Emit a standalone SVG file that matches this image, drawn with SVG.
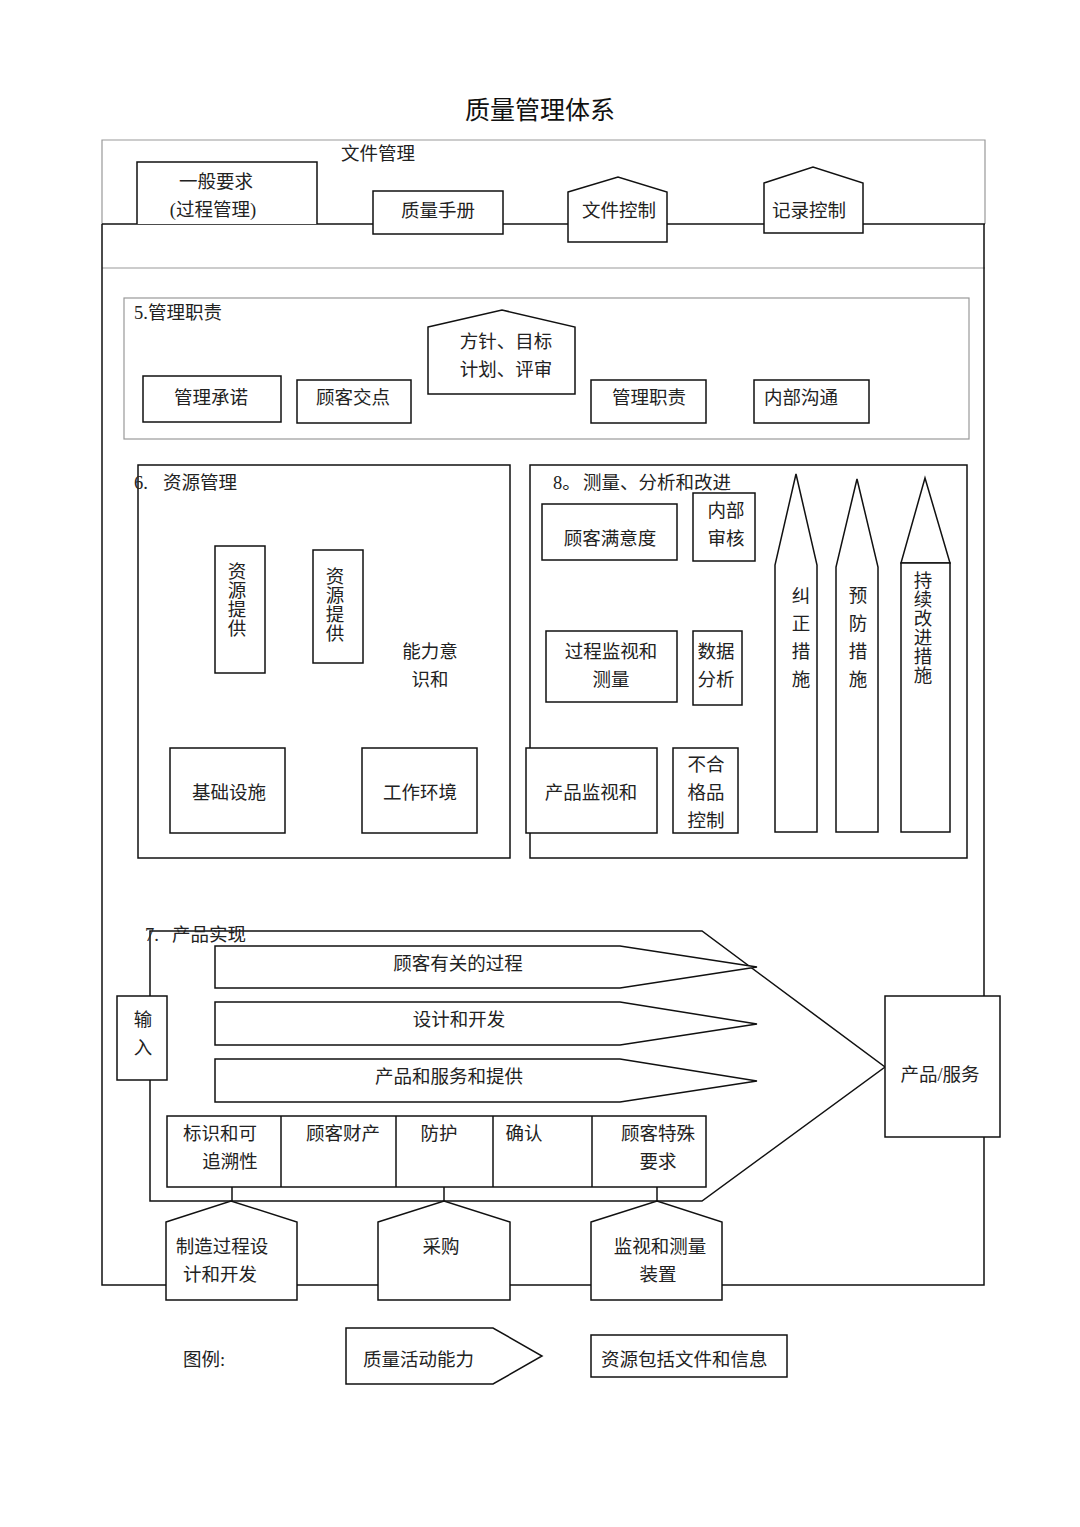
<svg xmlns="http://www.w3.org/2000/svg" width="1080" height="1527" viewBox="0 0 1080 1527">
<style>
.s{fill:#fff;stroke:#111;stroke-width:1.5}
.o{fill:none;stroke:#111;stroke-width:1.5}
.g{fill:none;stroke:#999;stroke-width:1.2}
text{font-family:"Liberation Serif","Noto Sans CJK SC",serif;font-size:18.5px;fill:#222}
.c{text-anchor:middle}
.t{font-size:25px;fill:#111}
</style>
<rect width="1080" height="1527" fill="#fff"/>
<text id="title" class="c t" x="540" y="119">质量管理体系</text>

<g id="frames">
<path class="g" d="M102,224 V140 H985 V224"/>
<line class="g" x1="102" y1="268" x2="985" y2="268"/>
<path class="o" d="M102,224 V1285 H984 V224"/>
<rect class="g" x="124" y="298" width="845" height="141"/>
<rect class="o" x="138" y="465" width="372" height="393"/>
<rect class="o" x="530" y="465" width="437" height="393"/>
</g>

<g id="connectors">
<line class="o" x1="102" y1="224" x2="985" y2="224"/>
<line class="o" x1="232" y1="1187" x2="232" y2="1201"/>
<line class="o" x1="444" y1="1187" x2="444" y2="1201"/>
<line class="o" x1="657" y1="1187" x2="657" y2="1201"/>
</g>

<g id="doc-mgmt">
<text x="341" y="160">文件管理</text>
</g>
<g id="general-req">
<path class="s" d="M137,224 V162 H317 V224"/>
<text class="c" x="216" y="188">一般要求</text>
<text class="c" x="213" y="216">(过程管理)</text>
</g>
<g id="quality-manual">
<rect class="s" x="373" y="191" width="130" height="43"/>
<text class="c" x="438" y="217">质量手册</text>
</g>
<g id="doc-control">
<path class="s" d="M568,192 L618,177 L667,192 V242 H568 Z"/>
<text class="c" x="619" y="217">文件控制</text>
</g>
<g id="record-control">
<path class="s" d="M764,183 L813,167 L863,183 V233 H764 Z"/>
<text class="c" x="809" y="217">记录控制</text>
</g>

<g id="mgmt-resp">
<text x="134" y="319">5.管理职责</text>
</g>
<g id="mgmt-commit">
<rect class="s" x="143" y="376" width="138" height="46"/>
<text class="c" x="211" y="404">管理承诺</text>
</g>
<g id="customer-focus">
<rect class="s" x="297" y="380" width="114" height="43"/>
<text class="c" x="353" y="404">顾客交点</text>
</g>
<g id="policy">
<path class="s" d="M428,327 L502,310 L575,327 V394 H428 Z"/>
<text class="c" x="506" y="348">方针、目标</text>
<text class="c" x="506" y="376">计划、评审</text>
</g>
<g id="mgmt-duty">
<rect class="s" x="591" y="380" width="115" height="43"/>
<text class="c" x="649" y="404">管理职责</text>
</g>
<g id="internal-comm">
<rect class="s" x="754" y="380" width="115" height="43"/>
<text x="764" y="404">内部沟通</text>
</g>

<g id="resource-mgmt">
<text x="134" y="489">6.</text>
<text x="163" y="489">资源管理</text>
</g>
<g id="res-provide-1">
<rect class="s" x="215" y="546" width="50" height="127"/>
<text class="c" x="237" y="578">资</text>
<text class="c" x="237" y="597">源</text>
<text class="c" x="237" y="616">提</text>
<text class="c" x="237" y="635">供</text>
</g>
<g id="res-provide-2">
<rect class="s" x="313" y="550" width="50" height="113"/>
<text class="c" x="335" y="583">资</text>
<text class="c" x="335" y="602">源</text>
<text class="c" x="335" y="621">提</text>
<text class="c" x="335" y="640">供</text>
</g>
<g id="competence">
<text class="c" x="430" y="658">能力意</text>
<text class="c" x="430" y="686">识和</text>
</g>
<g id="infrastructure">
<rect class="s" x="170" y="748" width="115" height="85"/>
<text class="c" x="229" y="799">基础设施</text>
</g>
<g id="work-env">
<rect class="s" x="362" y="748" width="115" height="85"/>
<text class="c" x="420" y="799">工作环境</text>
</g>

<g id="measure">
<text x="553" y="489">8。</text>
<text x="583" y="489">测量、分析和改进</text>
</g>
<g id="cust-sat">
<rect class="s" x="542" y="504" width="135" height="56"/>
<text class="c" x="610" y="545">顾客满意度</text>
</g>
<g id="internal-audit">
<rect class="s" x="693" y="493" width="62" height="68"/>
<text class="c" x="726" y="517">内部</text>
<text class="c" x="726" y="545">审核</text>
</g>
<g id="process-monitor">
<rect class="s" x="546" y="631" width="131" height="71"/>
<text class="c" x="611" y="658">过程监视和</text>
<text class="c" x="611" y="686">测量</text>
</g>
<g id="data-analysis">
<rect class="s" x="693" y="631" width="49" height="74"/>
<text class="c" x="716" y="658">数据</text>
<text class="c" x="716" y="686">分析</text>
</g>
<g id="product-monitor">
<rect class="s" x="526" y="748" width="131" height="85"/>
<text class="c" x="591" y="799">产品监视和</text>
</g>
<g id="nonconform">
<rect class="s" x="673" y="748" width="65" height="85"/>
<text class="c" x="706" y="771">不合</text>
<text class="c" x="706" y="799">格品</text>
<text class="c" x="706" y="827">控制</text>
</g>
<g id="corrective">
<path class="s" d="M796,474 L817,565 V832 H775 V565 Z"/>
<text class="c" x="801" y="602">纠</text>
<text class="c" x="801" y="630">正</text>
<text class="c" x="801" y="658">措</text>
<text class="c" x="801" y="686">施</text>
</g>
<g id="preventive">
<path class="s" d="M857,479 L878,567 V832 H836 V567 Z"/>
<text class="c" x="858" y="602">预</text>
<text class="c" x="858" y="630">防</text>
<text class="c" x="858" y="658">措</text>
<text class="c" x="858" y="686">施</text>
</g>
<g id="continual">
<path class="s" d="M925,478 L950,563 H901 Z"/>
<rect class="s" x="901" y="563" width="49" height="269"/>
<text class="c" x="923" y="587">持</text>
<text class="c" x="923" y="606">续</text>
<text class="c" x="923" y="625">改</text>
<text class="c" x="923" y="644">进</text>
<text class="c" x="923" y="663">措</text>
<text class="c" x="923" y="682">施</text>
</g>

<g id="realization">
<path class="o" d="M150,996 V931 H702 L885,1067 L702,1201 H150 V1080"/>
<text x="145" y="941">7.</text>
<text x="172" y="941">产品实现</text>
</g>
<g id="input">
<rect class="s" x="117" y="996" width="50" height="84"/>
<text class="c" x="143" y="1026">输</text>
<text class="c" x="143" y="1054">入</text>
</g>
<g id="cust-process">
<path class="s" d="M215,946 H620 L757,967 L620,988 H215 Z"/>
<text class="c" x="458" y="970">顾客有关的过程</text>
</g>
<g id="design">
<path class="s" d="M215,1002 H620 L757,1024 L620,1045 H215 Z"/>
<text class="c" x="459" y="1026">设计和开发</text>
</g>
<g id="provision">
<path class="s" d="M215,1059 H620 L757,1081 L620,1102 H215 Z"/>
<text class="c" x="449" y="1083">产品和服务和提供</text>
</g>
<g id="support-row">
<rect class="s" x="167" y="1116" width="539" height="71"/>
<line class="o" x1="281" y1="1116" x2="281" y2="1187"/>
<line class="o" x1="396" y1="1116" x2="396" y2="1187"/>
<line class="o" x1="493" y1="1116" x2="493" y2="1187"/>
<line class="o" x1="592" y1="1116" x2="592" y2="1187"/>
</g>
<g id="identification">
<text class="c" x="220" y="1140">标识和可</text>
<text class="c" x="230" y="1168">追溯性</text>
</g>
<g id="cust-property">
<text class="c" x="343" y="1140">顾客财产</text>
</g>
<g id="preservation">
<text class="c" x="439" y="1140">防护</text>
</g>
<g id="validation">
<text class="c" x="524" y="1140">确认</text>
</g>
<g id="cust-special">
<text class="c" x="658" y="1140">顾客特殊</text>
<text class="c" x="658" y="1168">要求</text>
</g>
<g id="product-service">
<rect class="s" x="885" y="996" width="115" height="141"/>
<text class="c" x="940" y="1081">产品/服务</text>
</g>
<g id="mfg-design">
<path class="s" d="M166,1222 L231,1201 L297,1222 V1300 H166 Z"/>
<text class="c" x="222" y="1253">制造过程设</text>
<text class="c" x="220" y="1281">计和开发</text>
</g>
<g id="purchasing">
<path class="s" d="M378,1222 L444,1201 L510,1222 V1300 H378 Z"/>
<text class="c" x="441" y="1253">采购</text>
</g>
<g id="monitor-device">
<path class="s" d="M591,1222 L657,1201 L722,1222 V1300 H591 Z"/>
<text class="c" x="660" y="1253">监视和测量</text>
<text class="c" x="658" y="1281">装置</text>
</g>

<g id="legend">
<text x="183" y="1366">图例:</text>
</g>
<g id="legend-activity">
<path class="s" d="M346,1328 H493 L542,1356 L493,1384 H346 Z"/>
<text x="363" y="1366">质量活动能力</text>
</g>
<g id="legend-resource">
<rect class="s" x="591" y="1335" width="196" height="42"/>
<text x="601" y="1366">资源包括文件和信息</text>
</g>
</svg>
